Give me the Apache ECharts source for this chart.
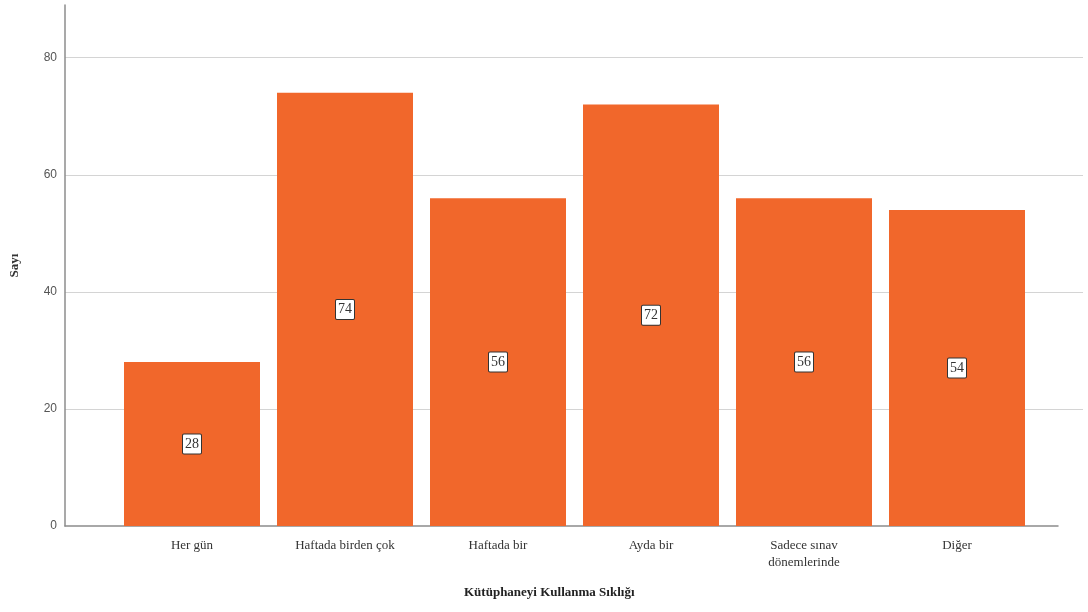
<!DOCTYPE html>
<html>
<head>
<meta charset="utf-8">
<script src="https://cdn.jsdelivr.net/npm/echarts@6/dist/echarts.min.js"></script>
<style>
  html, body { margin: 0; padding: 0; background: #fff; }
  #chart { width: 1088px; height: 612px; }
</style>
</head>
<body>
<div id="chart"></div>
<script>
// Library usage frequency counts
const categories = ['Her gün', 'Haftada birden çok', 'Haftada bir', 'Ayda bir', 'Sadece sınav\ndönemlerinde', 'Diğer'];
const counts = [28, 74, 56, 72, 56, 54];
const yTicks = [0, 20, 40, 60, 80];
const yTitle = 'Sayı';
const xTitle = 'Kütüphaneyi Kullanma Sıklığı';

const Y_MAX = 89;
const serif = '"Liberation Serif", "DejaVu Serif", serif';
const barColor = '#F1672B';

const chart = echarts.init(document.getElementById('chart'));
chart.setOption({
  animation: false,
  backgroundColor: '#fff',
  grid: [
    // bars
    { left: 115.5, width: 918, top: 5, bottom: 86 },
    // value axis and gridlines
    { left: 65, right: 5, top: 5, bottom: 86 },
    // baseline
    { left: 65, right: 30, top: 5, bottom: 86 }
  ],
  xAxis: [
    {
      gridIndex: 0, type: 'category', data: categories, boundaryGap: true,
      axisLine: { show: false }, axisTick: { show: false },
      axisLabel: { interval: 0, margin: 11, fontFamily: serif, fontSize: 13, color: '#333', lineHeight: 17 }
    },
    { gridIndex: 1, type: 'value', min: 0, max: 1, show: false },
    {
      gridIndex: 2, type: 'value', min: 0, max: 1,
      axisLine: { show: true, lineStyle: { color: '#8c8c8c', width: 1.5 } },
      axisTick: { show: false }, axisLabel: { show: false }, splitLine: { show: false }
    }
  ],
  yAxis: [
    { gridIndex: 0, type: 'value', min: 0, max: Y_MAX, show: false },
    {
      gridIndex: 1, type: 'value', min: 0, max: Y_MAX, interval: 20,
      name: yTitle, nameLocation: 'middle', nameGap: 44, nameRotate: 90,
      nameTextStyle: { fontFamily: serif, fontWeight: 'bold', fontSize: 13, color: '#333' },
      axisLine: { show: true, lineStyle: { color: '#8c8c8c', width: 1.5 } },
      axisTick: { show: false },
      axisLabel: {
        margin: 8, fontFamily: '"Liberation Sans", Arial, sans-serif', fontSize: 12, color: '#555',
        formatter: v => (yTicks.indexOf(v) >= 0 ? String(v) : '')
      },
      splitLine: { show: true, showMinLine: false, showMaxLine: false, lineStyle: { color: '#d4d4d4', width: 1 } }
    },
    { gridIndex: 2, type: 'value', min: 0, max: Y_MAX, show: false }
  ],
  series: [
    {
      type: 'bar', xAxisIndex: 0, yAxisIndex: 0,
      data: counts, barWidth: 136,
      itemStyle: { color: barColor },
      label: {
        show: true, position: 'inside',
        fontFamily: serif, fontSize: 14, color: '#333',
        backgroundColor: '#fff', borderColor: '#333', borderWidth: 1,
        borderRadius: 1, padding: [3, 2, 2, 2]
      }
    }
  ],
  graphic: [
    {
      type: 'text', left: 574 - 110, top: 586,
      style: {
        text: xTitle, fontFamily: serif, fontWeight: 'bold', fontSize: 13, fill: '#222',
        width: 220, align: 'center'
      }
    }
  ]
});
</script>
</body>
</html>
